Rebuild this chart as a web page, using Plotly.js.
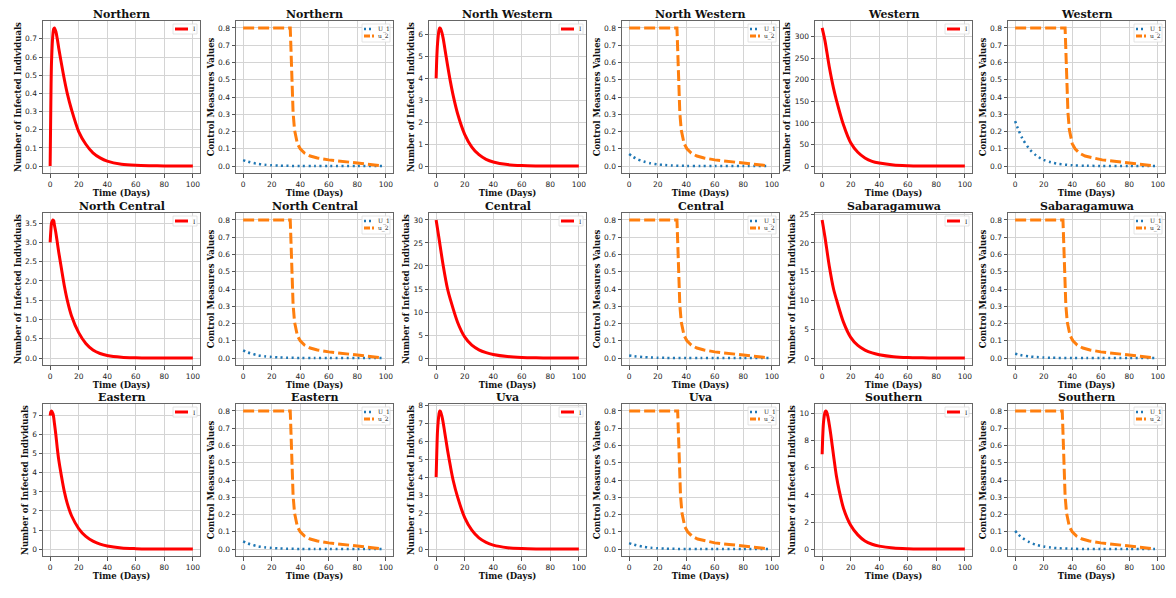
<!DOCTYPE html>
<html><head><meta charset="utf-8">
<script src="https://cdn.plot.ly/plotly-3.0.1.min.js"></script>
<style>body{margin:0;background:#fff}#chart{width:1176px;height:598px}</style>
</head><body><div id="chart"></div>
<script>
// ---------- DATA ----------
const regions = ["Northern","North Western","Western","North Central","Central","Sabaragamuwa","Eastern","Uva","Southern"];

// Infected individuals I(t)
const tI_peak = [0,0.5,1,2,2.5,3,4,5,6,8,10,12,15,20,25,30,35,40,50,60,70,80,90,100];
const I_Northern     = [0,0.35,0.58,0.73,0.755,0.76,0.74,0.70,0.65,0.56,0.475,0.40,0.31,0.19,0.12,0.073,0.045,0.027,0.01,0.004,0.002,0.001,0.0005,0.0002];
const I_NorthWestern = [4.0,5.0,5.6,6.2,6.3,6.28,6.1,5.8,5.4,4.6,3.85,3.2,2.4,1.45,0.87,0.52,0.31,0.19,0.07,0.025,0.01,0.004,0.002,0.001];
const I_NorthCentral = [3.0,3.3,3.5,3.58,3.56,3.45,3.25,3.0,2.75,2.3,1.86,1.5,1.09,0.66,0.38,0.21,0.12,0.07,0.025,0.01,0.004,0.002,0.001,0.0005];
const I_Eastern      = [7.0,7.2,7.25,7.1,6.9,6.6,6.0,5.3,4.7,3.8,3.0,2.4,1.75,1.08,0.67,0.42,0.26,0.16,0.06,0.025,0.01,0.004,0.002,0.001];
const I_Uva          = [4.0,5.5,6.6,7.5,7.68,7.65,7.4,7.0,6.5,5.5,4.6,3.8,2.9,1.75,1.05,0.62,0.37,0.22,0.08,0.03,0.01,0.004,0.002,0.001];
const I_Southern     = [7.0,8.5,9.4,10.1,10.2,10.15,9.8,9.2,8.5,6.9,5.4,4.3,3.0,1.76,1.05,0.6,0.36,0.22,0.08,0.03,0.01,0.004,0.002,0.001];

const tI_decay = [0,2,5,8,10,15,20,25,30,35,40,50,60,70,80,90,100];
const I_Western      = [320,290,230,180,153,95,54,32,19,11,7,2.5,1,0.4,0.15,0.06,0.03];
const I_Central      = [30,26,20,15,12.7,7.8,4.6,2.8,1.8,1.2,0.8,0.35,0.15,0.07,0.03,0.015,0.01];
const I_Sabaragamuwa = [24,21,16,12,10.2,6.2,3.6,2.2,1.4,0.9,0.6,0.25,0.1,0.05,0.02,0.01,0.005];

// Control U_1(t)
const tU1 = [0,2,5,10,15,20,25,30,40,50,60,80,98];
const U1_Northern     = [0.035,0.029,0.022,0.013,0.008,0.005,0.003,0.0018,0.0006,0.0002,0.0001,0,0];
const U1_NorthWestern = [0.07,0.058,0.043,0.027,0.016,0.0098,0.006,0.0035,0.0013,0.0005,0.0002,0,0];
const U1_Western      = [0.26,0.216,0.161,0.099,0.060,0.036,0.022,0.013,0.0047,0.0018,0.0008,0.0001,0];
const U1_NorthCentral = [0.045,0.037,0.028,0.017,0.010,0.0063,0.0038,0.0023,0.0008,0.0003,0.0001,0,0];
const U1_Central      = [0.015,0.0125,0.0093,0.0057,0.0035,0.0021,0.0013,0.0008,0.0003,0.0001,0,0,0];
const U1_Sabaragamuwa = [0.025,0.021,0.0155,0.0095,0.0058,0.0035,0.0021,0.0013,0.0005,0.0002,0.0001,0,0];
const U1_Eastern      = [0.045,0.037,0.028,0.017,0.010,0.0063,0.0038,0.0023,0.0008,0.0003,0.0001,0,0];
const U1_Uva          = [0.035,0.029,0.022,0.013,0.008,0.005,0.003,0.0018,0.0006,0.0002,0.0001,0,0];
const U1_Southern     = [0.105,0.087,0.065,0.040,0.024,0.0147,0.0089,0.0053,0.0019,0.0007,0.0003,0.0001,0];

// Control u_2(t)
const u2_vals = [0.8,0.8,0.68,0.52,0.40,0.31,0.21,0.16,0.13,0.10,0.075,0.058,0.047,0.036,0.027,0.019,0.013,0.008,0.003];
const tU2_Northern     = [0,33,33.5,34,34.5,35,36,37,38,40,43,47,52,60,70,80,88,93,96];
const tU2_NorthWestern = [0,33.5,34,34.5,35,35.5,36.5,37.5,38.5,40.5,43.5,47.5,52.5,60,70,80,88,93,96];
const tU2_Western      = [0,35,35.5,36,36.5,37,38,39,40,42,45,49,54,61,71,80,88,93,96];
const tU2_NorthCentral = [0,33,33.5,34,34.5,35,36,37,38,40,43,47,52,60,70,80,88,93,96];
const tU2_Central      = [0,33.5,34,34.5,35,35.5,36.5,37.5,38.5,40.5,43.5,47.5,52.5,60,70,80,88,93,96];
const tU2_Sabaragamuwa = [0,33.5,34,34.5,35,35.5,36.5,37.5,38.5,40.5,43.5,47.5,52.5,60,70,80,88,93,96];
const tU2_Eastern      = [0,33,33.5,34,34.5,35,36,37,38,40,43,47,52,60,70,80,88,93,96];
const tU2_Uva          = [0,34,34.5,35,35.5,36,37,38,39,41,44,48,53,60,70,80,88,93,96];
const tU2_Southern     = [0,33,33.5,34,34.5,35,36,37,38,40,43,47,52,60,70,80,88,93,96];

const xTicks = [0,20,40,60,80,100];
const yDtickI = {"Northern":0.1,"North Western":1,"Western":50,"North Central":0.5,"Central":5,"Sabaragamuwa":5,"Eastern":1,"Uva":1,"Southern":2};
const yDtickC = 0.1;

const regionData = {
  "Northern":      {tI:tI_peak,  I:I_Northern,     U1:U1_Northern,     tU2:tU2_Northern},
  "North Western": {tI:tI_peak,  I:I_NorthWestern, U1:U1_NorthWestern, tU2:tU2_NorthWestern},
  "Western":       {tI:tI_decay, I:I_Western,      U1:U1_Western,      tU2:tU2_Western},
  "North Central": {tI:tI_peak,  I:I_NorthCentral, U1:U1_NorthCentral, tU2:tU2_NorthCentral},
  "Central":       {tI:tI_decay, I:I_Central,      U1:U1_Central,      tU2:tU2_Central},
  "Sabaragamuwa":  {tI:tI_decay, I:I_Sabaragamuwa, U1:U1_Sabaragamuwa, tU2:tU2_Sabaragamuwa},
  "Eastern":       {tI:tI_peak,  I:I_Eastern,      U1:U1_Eastern,      tU2:tU2_Eastern},
  "Uva":           {tI:tI_peak,  I:I_Uva,          U1:U1_Uva,          tU2:tU2_Uva},
  "Southern":      {tI:tI_peak,  I:I_Southern,     U1:U1_Southern,     tU2:tU2_Southern}
};

// ---------- LAYOUT ----------
const W = 1176, H = 598;
const colLeft = [43,236,429,622,815,1008];
const plotW = 157;
const rowTop = [21,213,404];
const plotH = 152;

const RED = '#ff0000', BLUE = '#1f77b4', ORANGE = '#ff7f0e';
const tickFont = {family:'DejaVu Sans', size:7.5, color:'#222'};
const labFont = {family:'DejaVu Serif', size:8.5, color:'#111', weight:'bold'};
const titleFont = {family:'DejaVu Serif', size:11, color:'#111', weight:'bold'};
const legFont = {family:'DejaVu Serif', size:6, color:'#222'};

const data = [];
const layout = {
  width: W, height: H, margin:{l:0,r:0,t:0,b:0},
  paper_bgcolor:'#fff', plot_bgcolor:'#fff', showlegend:false,
  shapes:[], annotations:[]
};

function padRange(arrs){
  let mn=Infinity,mx=-Infinity;
  arrs.forEach(a=>a.forEach(v=>{if(v<mn)mn=v;if(v>mx)mx=v;}));
  const s=mx-mn; return [mn-0.05*s, mx+0.05*s];
}

let k = 0;
regions.forEach((reg, ri) => {
  const d = regionData[reg];
  ['I','C'].forEach(kind => {
    const row = Math.floor(k/6), col = k%6;
    const n = k+1, sfx = n===1?'':String(n);
    const xa = 'x'+sfx, ya = 'y'+sfx;
    const yr = kind==='I' ? padRange([d.I]) : padRange([d.U1,u2_vals]);
    layout['xaxis'+sfx] = {
      domain:[colLeft[col]/W,(colLeft[col]+plotW)/W], anchor:ya,
      range:[-5,105], tickvals:xTicks, ticks:'outside', ticklen:3.5, tickwidth:1, tickcolor:'#555',
      ticklabelstandoff:0,
      showline:true, mirror:true, linecolor:'#666', linewidth:1,
      showgrid:true, gridcolor:'#d4d4d4', gridwidth:1, zeroline:false,
      tickfont:tickFont, automargin:false,
      title:{text:'Time (Days)', font:labFont, standoff:1}
    };
    layout['yaxis'+sfx] = {
      domain:[1-(rowTop[row]+plotH)/H, 1-rowTop[row]/H], anchor:xa,
      range:yr, tick0:0, dtick: kind==='I'?yDtickI[reg]:yDtickC,
      tickformat: (kind==='C' || yDtickI[reg]<1) ? '.1f' : 'd',
      ticks:'outside', ticklen:3.5, tickwidth:1, tickcolor:'#555',
      showline:true, mirror:true, linecolor:'#666', linewidth:1,
      showgrid:true, gridcolor:'#d4d4d4', gridwidth:1, zeroline:false,
      tickfont:tickFont, automargin:false,
      title:{text: kind==='I'?'Number of Infected Individuals':'Control Measures Values', font:labFont, standoff:2}
    };
    // panel title
    layout.annotations.push({text:reg, xref:xa+' domain', yref:ya+' domain', x:0.5, y:1, xanchor:'center', yanchor:'bottom', yshift:-2, showarrow:false, font:titleFont});
    const ldx = xa+' domain', ldy = ya+' domain';
    if (kind==='I') {
      data.push({x:d.tI, y:d.I, xaxis:xa, yaxis:ya, mode:'lines', name:'I', line:{color:RED, width:3, shape:'spline', smoothing:0.8}});
      layout.shapes.push({type:'rect', xref:ldx, yref:ldy, xsizemode:'pixel', ysizemode:'pixel', xanchor:1, yanchor:1, x0:-27, x1:-3, y0:-3, y1:-13, line:{color:'#ddd', width:0.8}, fillcolor:'rgba(255,255,255,0.85)', layer:'above'});
      layout.shapes.push({type:'line', xref:ldx, yref:ldy, xsizemode:'pixel', ysizemode:'pixel', xanchor:1, yanchor:1, x0:-25, x1:-12, y0:-8, y1:-8, line:{color:RED, width:3}, layer:'above'});
      layout.annotations.push({text:'I', xref:ldx, yref:ldy, x:1, y:1, xshift:-9, yshift:-8, xanchor:'left', yanchor:'middle', showarrow:false, font:legFont});
    } else {
      data.push({x:tU1, y:d.U1, xaxis:xa, yaxis:ya, mode:'lines', name:'U_1', line:{color:BLUE, width:2.5, dash:'2px,3.5px', shape:'spline', smoothing:0.8}});
      data.push({x:d.tU2, y:u2_vals, xaxis:xa, yaxis:ya, mode:'lines', name:'u_2', line:{color:ORANGE, width:3, dash:'11px,4px'}});
      layout.shapes.push({type:'rect', xref:ldx, yref:ldy, xsizemode:'pixel', ysizemode:'pixel', xanchor:1, yanchor:1, x0:-31, x1:-3, y0:-3, y1:-21, line:{color:'#ddd', width:0.8}, fillcolor:'rgba(255,255,255,0.85)', layer:'above'});
      layout.shapes.push({type:'line', xref:ldx, yref:ldy, xsizemode:'pixel', ysizemode:'pixel', xanchor:1, yanchor:1, x0:-29, x1:-19, y0:-8, y1:-8, line:{color:BLUE, width:2.5, dash:'2px,3px'}, layer:'above'});
      layout.shapes.push({type:'line', xref:ldx, yref:ldy, xsizemode:'pixel', ysizemode:'pixel', xanchor:1, yanchor:1, x0:-29, x1:-19, y0:-15, y1:-15, line:{color:ORANGE, width:3, dash:'6px,2px'}, layer:'above'});
      layout.annotations.push({text:'U_1', xref:ldx, yref:ldy, x:1, y:1, xshift:-17, yshift:-8, xanchor:'left', yanchor:'middle', showarrow:false, font:legFont});
      layout.annotations.push({text:'u_2', xref:ldx, yref:ldy, x:1, y:1, xshift:-17, yshift:-15, xanchor:'left', yanchor:'middle', showarrow:false, font:legFont});
    }
    k++;
  });
});

Plotly.newPlot('chart', data, layout, {staticPlot:true, displayModeBar:false});
</script>
</body></html>
